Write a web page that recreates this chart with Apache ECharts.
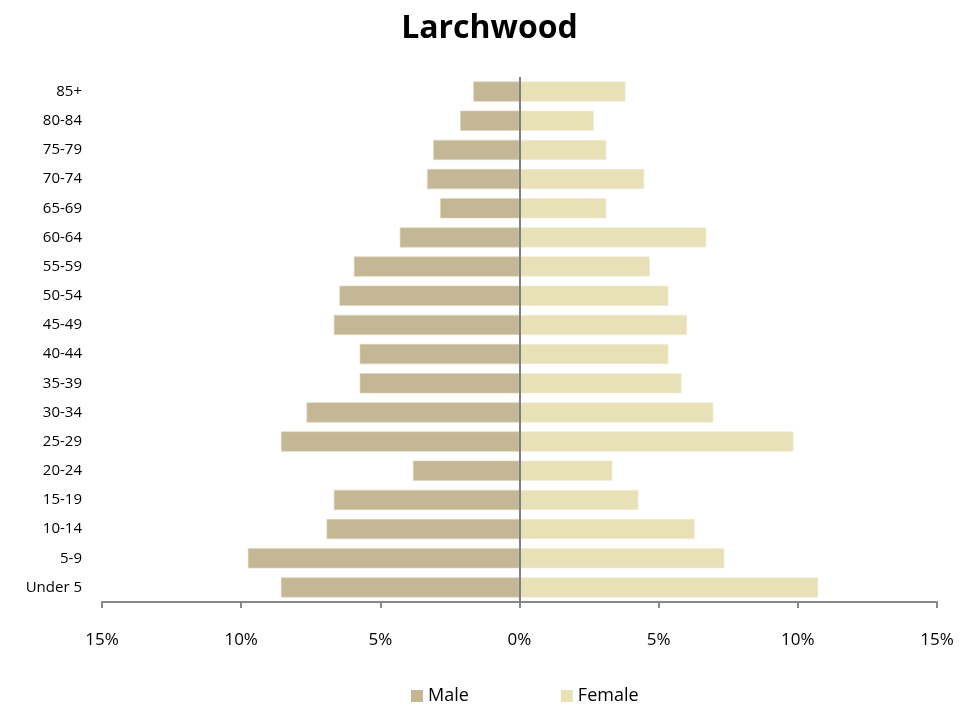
<!DOCTYPE html>
<html>
<head>
<meta charset="utf-8">
<script src="https://cdn.jsdelivr.net/npm/echarts@6/dist/echarts.min.js"></script>
<style>html,body{margin:0;padding:0;background:#fff;}#c{width:979px;height:713px;}</style>
</head>
<body>
<div id="c"></div>
<script>
const categories = ['Under 5','5-9','10-14','15-19','20-24','25-29','30-34','35-39','40-44','45-49','50-54','55-59','60-64','65-69','70-74','75-79','80-84','85+'];
const maleValues = [8.57, 9.76, 6.93, 6.67, 3.83, 8.57, 7.65, 5.74, 5.74, 6.67, 6.47, 5.95, 4.30, 2.85, 3.32, 3.10, 2.13, 1.66];
const femaleValues = [10.73, 7.36, 6.29, 4.27, 3.34, 9.84, 6.96, 5.82, 5.35, 6.02, 5.35, 4.68, 6.71, 3.12, 4.48, 3.12, 2.67, 3.81];
const xTicks = [-15, -10, -5, 0, 5, 10, 15];

const chart = echarts.init(document.getElementById('c'));
const font = '"Open Sans", "Noto Sans", sans-serif';
chart.setOption({
  animation: false,
  title: {
    text: 'Larchwood', left: 'center', top: 8,
    textStyle: { fontFamily: font, fontSize: 32, fontWeight: 'bold', color: '#000' }
  },
  legend: {
    bottom: 3, left: 406, itemGap: 92, itemWidth: 12, itemHeight: 12,
    icon: 'rect',
    itemStyle: { borderWidth: 0 },
    textStyle: { fontFamily: font, fontSize: 18, color: '#000' },
    data: ['Male', 'Female']
  },
  grid: { left: 102, right: 42, top: 77, bottom: 111 },
  xAxis: {
    type: 'value', min: xTicks[0], max: xTicks[xTicks.length - 1], interval: 5,
    axisLine: { show: true, lineStyle: { color: '#888', width: 2 } },
    axisTick: { show: true, length: 6, lineStyle: { color: '#888', width: 2 } },
    splitLine: { show: false },
    axisLabel: {
      margin: 30, fontFamily: font, fontSize: 17, color: '#000',
      formatter: v => Math.abs(v) + '%'
    }
  },
  yAxis: {
    type: 'category', data: categories,
    axisLine: { show: false }, axisTick: { show: false },
    axisLabel: { margin: 20, fontFamily: font, fontSize: 15, color: '#000' }
  },
  series: [
    {
      name: 'Male', type: 'bar', stack: 'pop', barCategoryGap: '31%',
      data: maleValues.map(v => -v),
      itemStyle: { color: '#C4B796', borderColor: '#DDD4BA', borderWidth: 0.6 },
      markLine: {
        silent: true, symbol: 'none', label: { show: false },
        lineStyle: { color: '#808080', width: 2, type: 'solid' },
        data: [{ xAxis: 0 }]
      },
      z: 2
    },
    {
      name: 'Female', type: 'bar', stack: 'pop',
      data: femaleValues,
      itemStyle: { color: '#E8E1B8', borderColor: '#F2EDD3', borderWidth: 0.6 },
      z: 2
    }
  ]
});
</script>
</body>
</html>
